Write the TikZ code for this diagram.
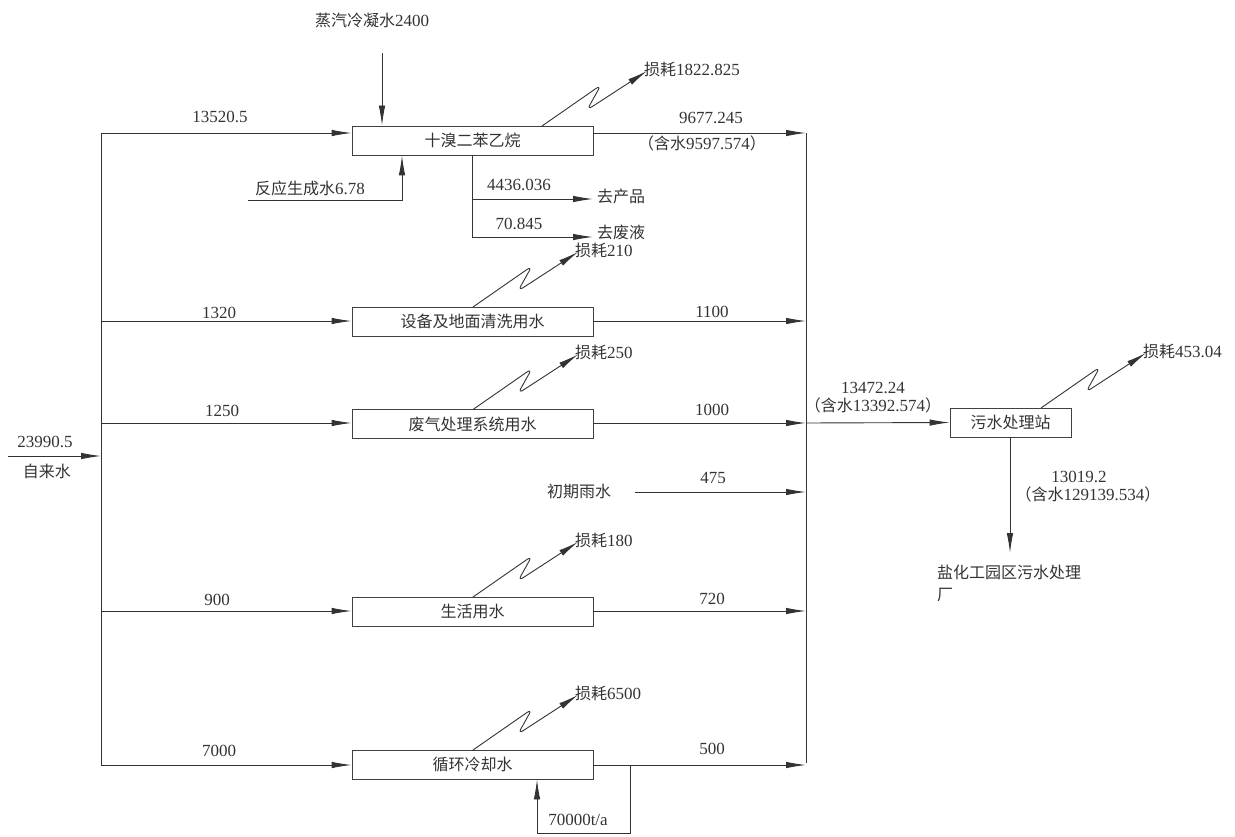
\documentclass[tikz,border=0pt]{standalone}
\usepackage{fontspec}
\setmainfont{Liberation Serif}
\newfontfamily\cjkf{Noto Sans CJK SC}
\usetikzlibrary{arrows.meta}
\newcommand\zh[1]{{\cjkf\fontsize{16}{19}\selectfont #1}}
\tikzset{
  ln/.style={draw=black!80, line width=0.9pt},
  arr/.style={ln, -{Latex[length=20pt,width=6.5pt]}},
  box/.style={draw=black!75, line width=0.9pt, minimum width=241pt, minimum height=29pt, inner sep=0pt, text=black!80},
  lbl/.style={text=black!80, inner sep=0pt, font=\fontsize{17}{20}\selectfont},
  loss/.style={arr, rounded corners=6pt},
}
\begin{document}
\begin{tikzpicture}[x=1pt,y=-1pt]
\useasboundingbox (0,0) rectangle (1235,837);

% process boxes
\node[box] (b1) at (472.5,140.5) {\zh{十溴二苯乙烷}};
\node[box] (b2) at (472.5,321.5) {\zh{设备及地面清洗用水}};
\node[box] (b3) at (472.5,424) {\zh{废气处理系统用水}};
\node[box] (b5) at (472.5,611.5) {\zh{生活用水}};
\node[box] (b6) at (472.5,764.5) {\zh{循环冷却水}};
\node[box, minimum width=121pt] (ws) at (1010.5,422.5) {\zh{污水处理站}};

% buses
\coordinate (Lt) at (101,133);
\coordinate (Lb) at (101,765);
\coordinate (Rt) at (806,133);
\coordinate (Rb) at (806,763);
\draw[ln] (Lt) -- (Lb);
\draw[ln] (Rt) -- (Rb);

% tap water input
\coordinate (src) at (8,456);
\coordinate (Lin) at (101,456);
\draw[arr] (src) -- (Lin);
\node[lbl] (tw1) at (45,442) {23990.5};
\node[lbl] (tw2) at (47,471) {\zh{自来水}};

% branches from left bus
\draw[arr] (Lt) -- (b1.west |- Lt);
\node[lbl] (i1) at (220,117) {13520.5};
\coordinate (L2) at (101,321);
\draw[arr] (L2) -- (b2.west |- L2);
\node[lbl] (i2) at (219,313) {1320};
\coordinate (L3) at (101,423);
\draw[arr] (L3) -- (b3.west |- L3);
\node[lbl] (i3) at (222,411) {1250};
\coordinate (L5) at (101,611);
\draw[arr] (L5) -- (b5.west |- L5);
\node[lbl] (i5) at (217,600) {900};
\draw[arr] (Lb) -- (b6.west |- Lb);
\node[lbl] (i6) at (219,751) {7000};

% outputs to right bus
\draw[arr] (b1.east |- Rt) -- (Rt);
\node[lbl] (o1) at (711,118) {9677.245};
\node[lbl] (o1b) at (702,143) {\zh{（含水}9597.574\zh{）}};
\coordinate (R2) at (806,321);
\draw[arr] (b2.east |- R2) -- (R2);
\node[lbl] (o2) at (712,312) {1100};
\coordinate (R3) at (806,423);
\draw[arr] (b3.east |- R3) -- (R3);
\node[lbl] (o3) at (712,410) {1000};
\coordinate (R4) at (806,492);
\coordinate (rain) at (635,492);
\draw[arr] (rain) -- (R4);
\node[lbl] (rn) at (579,491) {\zh{初期雨水}};
\node[lbl] (o4) at (713,478) {475};
\coordinate (R5) at (806,611);
\draw[arr] (b5.east |- R5) -- (R5);
\node[lbl] (o5) at (712,599) {720};
\coordinate (R6) at (806,765);
\draw[arr] (b6.east |- R6) -- (R6);
\node[lbl] (o6) at (712,749) {500};

% box 1 extras
\coordinate (steam) at (382,53);
\draw[arr] (steam) -- (b1.north -| steam);
\node[lbl] (st) at (372,20) {\zh{蒸汽冷凝水}2400};
\coordinate (rw0) at (248,200);
\coordinate (rw1) at (402,200);
\draw[arr] (rw0) -- (rw1) -- (b1.south -| rw1);
\node[lbl] (rw) at (310,188) {\zh{反应生成水}6.78};
\coordinate (br0) at (472,155);
\coordinate (br1) at (472,199);
\coordinate (br2) at (472,237);
\coordinate (pr) at (593,199);
\coordinate (wl) at (593,237);
\draw[ln] (br0) -- (br2);
\draw[arr] (br1) -- (pr);
\draw[arr] (br2) -- (wl);
\node[lbl] (p1) at (519,185) {4436.036};
\node[lbl, anchor=west] (p1t) at (597,196) {\zh{去产品}};
\node[lbl] (p2) at (519,224) {70.845};
\node[lbl, anchor=west] (p2t) at (597,232) {\zh{去废液}};

% recirculating cooling loop
\coordinate (c0) at (630,765);
\coordinate (c1) at (630,833);
\coordinate (c2) at (537,833);
\draw[arr] (c0) -- (c1) -- (c2) -- (b6.south -| c2);
\node[lbl] (cl) at (578,820) {70000t/a};

% losses
\coordinate (s1) at (542,126);
\draw[loss] (s1) -- ++(59,-41) -- ++(-14,25) -- ++(60,-39) coordinate (t1);
\node[lbl, anchor=west] (l1) at ([shift={(-3,-2)}]t1) {\zh{损耗}1822.825};
\coordinate (s2) at (473,307);
\draw[loss] (s2) -- ++(59,-41) -- ++(-14,25) -- ++(60,-39) coordinate (t2);
\node[lbl, anchor=west] (l2) at ([shift={(-3,-2)}]t2) {\zh{损耗}210};
\coordinate (s3) at (473,409.5);
\draw[loss] (s3) -- ++(59,-41) -- ++(-14,25) -- ++(60,-39) coordinate (t3);
\node[lbl, anchor=west] (l3) at ([shift={(-3,-2)}]t3) {\zh{损耗}250};
\coordinate (s5) at (473,597);
\draw[loss] (s5) -- ++(59,-41) -- ++(-14,25) -- ++(60,-39) coordinate (t5);
\node[lbl, anchor=west] (l5) at ([shift={(-3,-2)}]t5) {\zh{损耗}180};
\coordinate (s6) at (473,750);
\draw[loss] (s6) -- ++(59,-41) -- ++(-14,25) -- ++(60,-39) coordinate (t6);
\node[lbl, anchor=west] (l6) at ([shift={(-3,-2)}]t6) {\zh{损耗}6500};
\coordinate (s7) at (1041,408);
\draw[loss] (s7) -- ++(59,-41) -- ++(-14,25) -- ++(60,-39) coordinate (t7);
\node[lbl, anchor=west] (l7) at ([shift={(-3,-2)}]t7) {\zh{损耗}453.04};

% sewage station
\draw[arr] (R3) -- (ws.west);
\node[lbl] (w1) at (873,388) {13472.24};
\node[lbl] (w2) at (873,405) {\zh{（含水}13392.574\zh{）}};
\coordinate (ws1) at (1010,553);
\draw[arr] (ws.south -| ws1) -- (ws1);
\node[lbl] (w3) at (1079,477) {13019.2};
\node[lbl] (w4) at (1088,494) {\zh{（含水}129139.534\zh{）}};
\node[lbl, anchor=west, align=left] (dst) at (937,583) {\zh{盐化工园区污水处理}\\[2pt]\zh{厂}};
\end{tikzpicture}
\end{document}
